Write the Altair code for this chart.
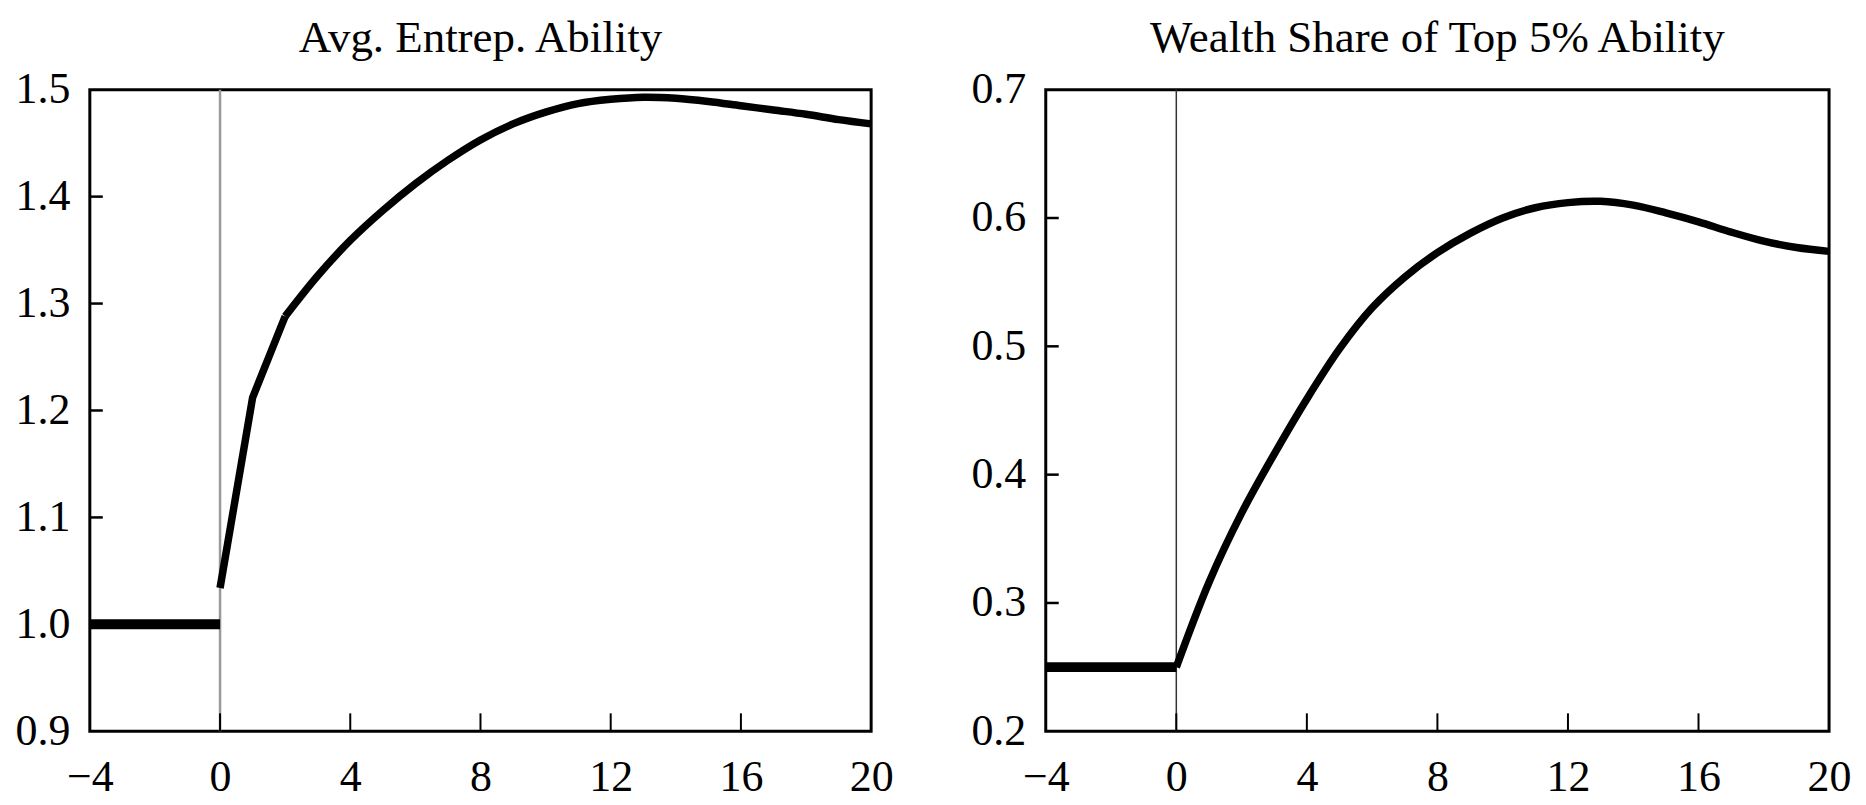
import altair as alt
import pandas as pd

# ---- data ----
pre_years = [-4, -3, -2, -1, 0]
post_years = [0, 1, 2, 3, 4, 5, 6, 7, 8, 9, 10, 11, 12, 13, 14, 15, 16, 17, 18, 19, 20]

ability_pre = [1.0, 1.0, 1.0, 1.0, 1.0]
ability_post = [1.034, 1.212, 1.288, 1.326, 1.359, 1.387, 1.412, 1.434, 1.453, 1.468,
                1.479, 1.487, 1.491, 1.493, 1.492, 1.489, 1.485, 1.481, 1.477, 1.472, 1.468]

share_pre = [0.25, 0.25, 0.25, 0.25, 0.25]
share_post = [0.250, 0.316, 0.370, 0.416, 0.459, 0.498, 0.530, 0.554, 0.573, 0.588,
              0.600, 0.608, 0.612, 0.613, 0.610, 0.604, 0.597, 0.589, 0.582, 0.577, 0.574]

x_tick_labels = [-4, 0, 4, 8, 12, 16, 20]
x_inner_ticks = [0, 4, 8, 12, 16]

left_y_ticks = [0.9, 1.0, 1.1, 1.2, 1.3, 1.4, 1.5]
left_inner_y = [1.0, 1.1, 1.2, 1.3, 1.4]
right_y_ticks = [0.2, 0.3, 0.4, 0.5, 0.6, 0.7]
right_inner_y = [0.3, 0.4, 0.5, 0.6]

FONT = "Liberation Serif"
H = 643
LABEL_SIZE = 44


def panel(title, pre_v, post_v, y_domain, y_ticks, inner_y, width,
          zero_color, zero_width, kink_until):
    xs = alt.Scale(domain=[-4, 20], nice=False, zero=False)
    ys = alt.Scale(domain=y_domain, nice=False, zero=False)
    x_axis = alt.Axis(values=x_tick_labels, ticks=False, tickSize=0, domain=False, grid=False,
                      labelFont=FONT, labelFontSize=LABEL_SIZE, labelColor="black",
                      labelPadding=24, format="d", title=None, labelFlush=False)
    y_axis = alt.Axis(values=y_ticks, ticks=False, tickSize=0, domain=False, grid=False,
                      labelFont=FONT, labelFontSize=LABEL_SIZE, labelColor="black",
                      labelPadding=20, format=".1f", title=None, labelFlush=False)

    pre_df = pd.DataFrame({"t": pre_years, "v": pre_v})
    post_df = pd.DataFrame({"t": post_years, "v": post_v})
    early_df = post_df[post_df["t"] <= kink_until]
    late_df = post_df[post_df["t"] >= kink_until]

    zero = alt.Chart(pd.DataFrame({"t": [0]})).mark_rule(
        color=zero_color, strokeWidth=zero_width
    ).encode(x=alt.X("t:Q", scale=xs, axis=x_axis))

    xt = alt.Chart(pd.DataFrame({"t": x_inner_ticks})).mark_rule(
        color="black", strokeWidth=2
    ).encode(x=alt.X("t:Q", scale=xs), y=alt.value(H), y2=alt.value(H - 18))

    yt = alt.Chart(pd.DataFrame({"v": inner_y})).mark_rule(
        color="black", strokeWidth=2.5
    ).encode(y=alt.Y("v:Q", scale=ys, axis=y_axis), x=alt.value(0), x2=alt.value(13))

    pre_line = alt.Chart(pre_df).mark_line(color="black", strokeWidth=10).encode(
        x=alt.X("t:Q", scale=xs), y=alt.Y("v:Q", scale=ys)
    )
    early_line = alt.Chart(early_df).mark_line(
        color="black", strokeWidth=7.5, strokeJoin="round"
    ).encode(x=alt.X("t:Q", scale=xs), y=alt.Y("v:Q", scale=ys))
    late_line = alt.Chart(late_df).mark_line(
        color="black", strokeWidth=7.5, strokeJoin="round", interpolate="catmull-rom"
    ).encode(x=alt.X("t:Q", scale=xs), y=alt.Y("v:Q", scale=ys))

    return alt.layer(zero, xt, yt, pre_line, early_line, late_line).properties(
        width=width, height=H,
        title=alt.TitleParams(text=title, font=FONT, fontSize=45, fontWeight="normal",
                              color="black", anchor="middle", frame="group",
                              baseline="alphabetic", offset=-29),
    )


left = panel("Avg. Entrep. Ability", ability_pre, ability_post, [0.9, 1.5],
             left_y_ticks, left_inner_y, 783, "#999999", 2.5, 2)
right = panel("Wealth Share of Top 5% Ability", share_pre, share_post, [0.2, 0.7],
              right_y_ticks, right_inner_y, 785, "#333333", 1.5, 0)

chart = alt.hconcat(left, right, spacing=74).properties(
    padding={"left": 5, "right": 5, "top": 5, "bottom": 0}
).configure_view(stroke="black", strokeWidth=3)

chart.save("out.html", embed_options={"renderer": "svg", "actions": False})
